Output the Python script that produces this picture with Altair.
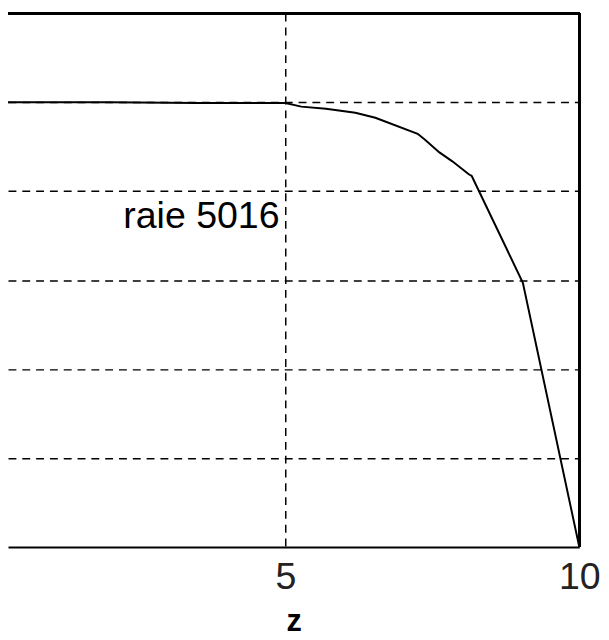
import altair as alt
import pandas as pd

z_values = [0.28, 2.0, 3.5, 5.0, 5.27, 5.69, 6.19, 6.53, 7.25, 7.37, 7.62, 7.84, 8.12, 8.17, 9.04, 10.0]
intensity = [1.0, 1.0, 0.998, 0.998, 0.990, 0.985, 0.976, 0.965, 0.929, 0.916, 0.887, 0.867, 0.838, 0.834, 0.594, 0.0]
x_ticks = [5, 10]
y_grid = [0.2, 0.4, 0.6, 0.8, 1.0]
label_text = ["raie 5016"]
label_z = [4.9]
label_y = [0.7165]

W, H = 579, 541
FONT = "Liberation Sans"

df = pd.DataFrame({"z": z_values, "I": intensity})
lab = pd.DataFrame({"t": label_text, "z": label_z, "I": label_y})

xs = alt.Scale(domain=[0.28, 10], nice=False, zero=False)
ys = alt.Scale(domain=[0, 1.2], nice=False, zero=False)

line = alt.Chart(df).mark_line(color="black", strokeWidth=2, clip=True).encode(
    x=alt.X("z:Q", scale=xs, title="z",
            axis=alt.Axis(values=x_ticks, format="d", grid=True, gridDash=[8, 6], gridColor="black",
                          gridWidth=1.5, gridOpacity=1, ticks=False, tickSize=0,
                          domain=True, domainColor="black", domainWidth=2,
                          labelFont=FONT, labelFontSize=38, labelColor="#222222",
                          labelPadding=12, labelFlush=False,
                          titleFont=FONT, titleFontSize=31, titleFontWeight="bold",
                          titleColor="black", titlePadding=11)),
    y=alt.Y("I:Q", scale=ys, title=None,
            axis=alt.Axis(values=y_grid, grid=True, gridDash=[8, 6], gridColor="black",
                          gridWidth=1.5, gridOpacity=1, labels=False, ticks=False,
                          domain=False)),
)

text = alt.Chart(lab).mark_text(font=FONT, fontSize=38, align="right",
                                baseline="alphabetic", color="black").encode(
    x=alt.X("z:Q", scale=xs), y=alt.Y("I:Q", scale=ys), text="t:N")

top_rule = alt.Chart(df).mark_rule(color="black", strokeWidth=2).encode(
    x=alt.value(0), x2=alt.value(W), y=alt.value(0))
right_rule = alt.Chart(df).mark_rule(color="black", strokeWidth=2).encode(
    x=alt.value(W), y=alt.value(0), y2=alt.value(H))

chart = alt.layer(line, text, top_rule, right_rule).properties(
    width=W, height=H,
    background="white",
    padding={"left": 0, "top": 1, "right": 22, "bottom": 90},
    autosize=alt.AutoSizeParams(type="none"),
).configure_view(strokeWidth=0, stroke="transparent")

chart.save("out.html", embed_options={"renderer": "svg", "actions": False})
